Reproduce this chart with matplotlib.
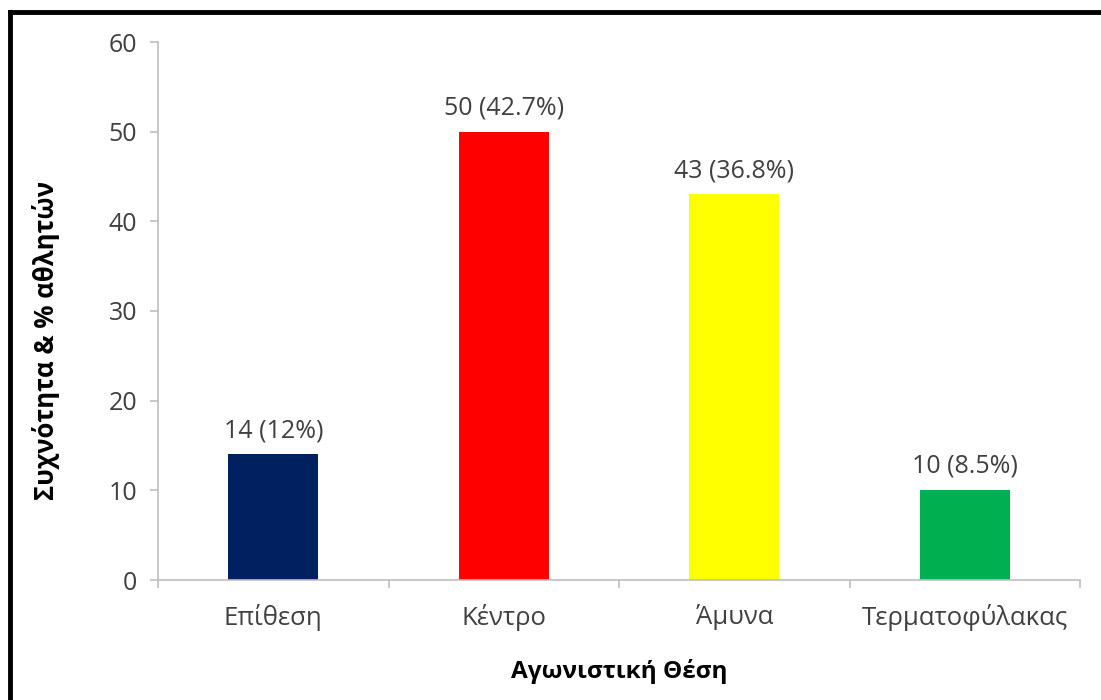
import numpy as np
import matplotlib.pyplot as plt
from matplotlib.lines import Line2D

# θέσεις αγώνα και πλήθος αθλητών
theseis = ["Επίθεση", "Κέντρο", "Άμυνα", "Τερματοφύλακας"]
plithos = [14, 50, 43, 10]
pososto = ["12%", "42.7%", "36.8%", "8.5%"]
xromata = ["#002060", "#FF0000", "#FFFF00", "#00B050"]

plt.rcParams["font.family"] = ["Open Sans", "DejaVu Sans"]

fig = plt.figure(figsize=(11.01, 7.0), dpi=100)
ax = fig.add_axes([158 / 1101, 120 / 700, 922 / 1101, 538 / 700])

x = np.arange(len(theseis))
ax.bar(x, plithos, width=0.39, color=xromata, zorder=2)
for xi, v, p in zip(x, plithos, pososto):
    ax.annotate(f"{v} ({p})", (xi, v), xytext=(0, 12.5), textcoords="offset points",
                ha="center", va="baseline", fontsize=18, color="#404040")

ax.set_xlim(-0.5, len(theseis) - 0.5)
ax.set_ylim(0, 60)
ax.set_yticks(range(0, 61, 10))
ax.set_xticks(x)
ax.set_xticklabels(theseis)
ax.tick_params(axis="x", length=0, pad=17, labelsize=18.5, labelcolor="#404040")
ax.tick_params(axis="y", length=6, width=1.2, color="#bfbfbf", pad=9,
               labelsize=18, labelcolor="#404040")
# γραμμές διαχωρισμού κατηγοριών κάτω από τον άξονα x
ax.set_xticks(np.arange(-0.5, len(theseis), 1), minor=True)
ax.tick_params(axis="x", which="minor", length=6, width=1.2, color="#bfbfbf",
               direction="out")

for s in ["top", "right"]:
    ax.spines[s].set_visible(False)
for s in ["left", "bottom"]:
    ax.spines[s].set_color("#bfbfbf")
    ax.spines[s].set_linewidth(1.2)

ax.set_xlabel("Αγωνιστική Θέση", fontsize=17.5, fontweight="bold")
ax.set_ylabel("Συχνότητα & % αθλητών", fontsize=18.5, fontweight="bold")
ax.xaxis.set_label_coords(0.5, -0.147)
ax.yaxis.set_label_coords(-0.106, 0.445)

# πλαίσιο γύρω από το γράφημα (πάνω και αριστερά)
fig.add_artist(Line2D([10 / 1101, 1.0], [1 - 12 / 700, 1 - 12 / 700],
                      color="black", linewidth=3.5, transform=fig.transFigure))
fig.add_artist(Line2D([10 / 1101, 10 / 1101], [0, 1 - 12 / 700],
                      color="black", linewidth=3.5, transform=fig.transFigure))

fig.savefig("out.png", dpi=100)
